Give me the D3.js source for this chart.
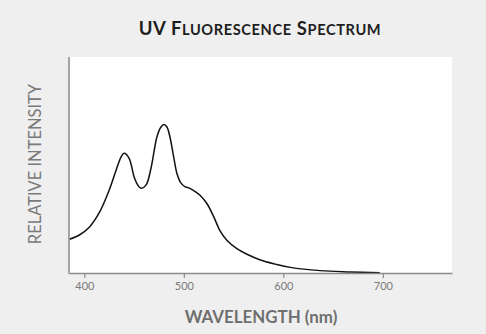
<!DOCTYPE html>
<html>
<head>
<meta charset="utf-8">
<script src="https://cdn.jsdelivr.net/npm/d3@7"></script>
<style>
  html, body { margin: 0; padding: 0; background: #efefef; }
  svg { display: block; }
</style>
</head>
<body>
<svg id="chart" width="486" height="334"></svg>
<script>
// Emission spectrum: wavelength (nm) and relative intensity (%)
const wavelengths = [385, 395, 405, 415, 425, 432, 437, 440, 445, 450, 454, 457, 462, 467, 473, 477, 480, 483, 486, 490, 493, 497, 501, 506, 511, 516, 523, 530, 536, 543, 553, 563, 577, 592, 607, 637, 667, 697];
const intensities = [15.6, 17.6, 21.2, 27.9, 38.4, 47.7, 53.8, 55.4, 53.1, 44.6, 40.5, 39.2, 40.7, 48.5, 63.1, 67.6, 68.8, 67.6, 63.1, 53.2, 46.2, 41.7, 40.0, 39.2, 37.8, 36.1, 32.3, 26.1, 19.9, 15.3, 11.4, 8.8, 6.0, 4.1, 2.6, 1.1, 0.5, 0.1];
const xTicks = [400, 500, 600, 700];

const svg = d3.select("#chart");
const plotLeft = 69, plotRight = 452, plotTop = 57, plotBottom = 273;

const x = d3.scaleLinear().domain([384.6, 769.5]).range([plotLeft, plotRight]);
const y = d3.scaleLinear().domain([0, 100]).range([plotBottom, plotTop]);

// plot panel
svg.append("rect")
  .attr("x", plotLeft).attr("y", plotTop)
  .attr("width", plotRight - plotLeft).attr("height", plotBottom - plotTop)
  .attr("fill", "#ffffff");

// spectrum curve
const pts = wavelengths.map((w, i) => [w, intensities[i]]);
svg.append("path")
  .datum(pts)
  .attr("fill", "none")
  .attr("stroke", "#111")
  .attr("stroke-width", 1.5)
  .attr("d", d3.line().x(d => x(d[0])).y(d => y(d[1])).curve(d3.curveCatmullRom.alpha(0.5)));

// x axis
const xAxis = svg.append("g")
  .attr("transform", `translate(0,${plotBottom})`)
  .call(d3.axisBottom(x).tickValues(xTicks).tickSize(5).tickPadding(4).tickSizeOuter(0));
xAxis.select(".domain").attr("stroke", "#8a8a8a").attr("stroke-width", 1.5);
xAxis.selectAll(".tick line").attr("stroke", "#8a8a8a").attr("stroke-width", 1.2);
xAxis.selectAll(".tick text")
  .attr("fill", "#7a7a7a")
  .style("font-family", "Lato, 'Open Sans', sans-serif")
  .style("font-size", "11px");

// y axis line only
svg.append("line")
  .attr("x1", plotLeft).attr("x2", plotLeft)
  .attr("y1", plotTop).attr("y2", plotBottom + 0.75)
  .attr("stroke", "#8a8a8a").attr("stroke-width", 1.5);

// title, set in small capitals
const titleParts = [["UV F", 18.5], ["LUORESCENCE", 14.6], [" S", 18.5], ["PECTRUM", 14.6]];
const title = svg.append("text")
  .attr("x", 260).attr("y", 35)
  .attr("text-anchor", "middle")
  .attr("fill", "#1e1e1e")
  .style("font-family", "Lato, sans-serif")
  .style("font-weight", "700")
  .style("letter-spacing", "0.6px");
title.selectAll("tspan")
  .data(titleParts)
  .join("tspan")
  .style("font-size", d => d[1] + "px")
  .text(d => d[0]);

// axis titles
svg.append("text")
  .attr("x", 261).attr("y", 323)
  .attr("text-anchor", "middle")
  .attr("fill", "#6f6f6f")
  .style("font-family", "Lato, sans-serif")
  .style("font-weight", "700")
  .style("font-size", "16.9px")
  .text("WAVELENGTH (nm)");

svg.append("text")
  .attr("transform", "translate(41,164) rotate(-90)")
  .attr("text-anchor", "middle")
  .attr("fill", "#7a7a7a")
  .style("font-family", "Lato, sans-serif")
  .style("font-size", "16.5px")
  .text("RELATIVE INTENSITY");
</script>
</body>
</html>
